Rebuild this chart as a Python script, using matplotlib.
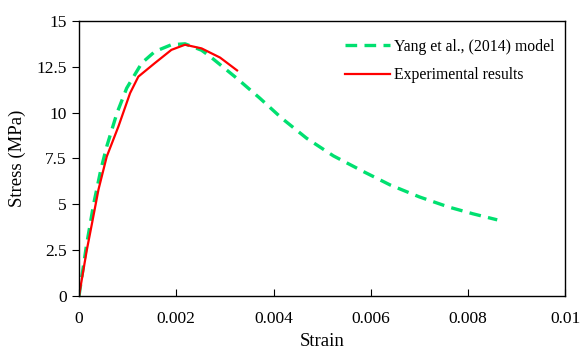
import matplotlib.pyplot as plt

# Yang et al. (2014) model curve
model_strain = [0, 0.00015, 0.0003, 0.00045, 0.00057, 0.00078, 0.00098, 0.00129, 0.00156,
                0.0019, 0.00218, 0.00252, 0.0027, 0.00324, 0.00372, 0.00417, 0.00468,
                0.00523, 0.00585, 0.0064, 0.0070, 0.0076, 0.0081, 0.0086]
model_stress = [0, 2.7, 5.0, 6.9, 8.15, 9.97, 11.33, 12.7, 13.33,
                13.7, 13.75, 13.4, 13.05, 11.88, 10.78, 9.69, 8.6,
                7.64, 6.78, 6.05, 5.4, 4.85, 4.48, 4.15]

exp_strain = [0, 0.00016, 0.00027, 0.0004, 0.00057, 0.00081, 0.00105, 0.00122,
              0.00156, 0.0019, 0.00218, 0.00252, 0.0029, 0.00325]
exp_stress = [0, 2.5, 4.0, 5.8, 7.6, 9.24, 11.06, 11.96,
              12.7, 13.42, 13.7, 13.5, 13.0, 12.3]

xticks = [0, 0.002, 0.004, 0.006, 0.008, 0.01]
xtick_labels = ['0', '0.002', '0.004', '0.006', '0.008', '0.01']
yticks = [0, 2.5, 5, 7.5, 10, 12.5, 15]
ytick_labels = ['0', '2.5', '5', '7.5', '10', '12.5', '15']

plt.rcParams['font.family'] = ['Liberation Serif', 'DejaVu Serif']

fig = plt.figure(figsize=(5.81, 3.54), dpi=100)
ax = fig.add_axes([0.136, 0.164, 0.837, 0.777])

ax.plot(model_strain, model_stress, color='#00e070', lw=2.4, dashes=(3.5, 2.2),
        label='Yang et al., (2014) model')
ax.plot(exp_strain, exp_stress, color='red', lw=1.6, label='Experimental results')

ax.set_xlim(0, 0.01)
ax.set_ylim(0, 15)
ax.set_xticks(xticks)
ax.set_xticklabels(xtick_labels)
ax.set_yticks(yticks)
ax.set_yticklabels(ytick_labels)
ax.tick_params(axis='x', direction='in', length=5, labelsize=12.5, pad=11)
ax.tick_params(axis='y', direction='out', length=5, labelsize=12.5, pad=4)

ax.set_xlabel('Strain', fontsize=13.5, labelpad=4)
ax.set_ylabel('Stress (MPa)', fontsize=13.5, labelpad=7)

for s in ax.spines.values():
    s.set_linewidth(1.0)

ax.legend(loc='upper right', frameon=False, fontsize=11.3, handlelength=2.9,
          handletextpad=0.25, borderaxespad=0.3, labelspacing=0.8,
          bbox_to_anchor=(1.0, 0.975))

fig.savefig('out.png', dpi=100)
